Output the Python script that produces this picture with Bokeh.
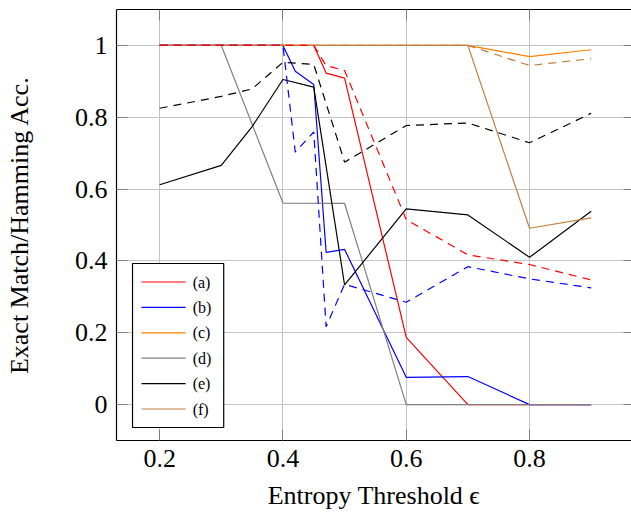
from bokeh.plotting import figure
from bokeh.models import (Range1d, LinearAxis, FixedTicker, CustomJSTickFormatter,
                          BoxAnnotation, Label)
from bokeh.embed import file_html
from bokeh.resources import INLINE

# ---- data -------------------------------------------------------------
X_FINE = [0.2, 0.3, 0.35, 0.4, 0.42, 0.45, 0.47, 0.5, 0.6, 0.7, 0.8, 0.9]
X_E = [0.2, 0.3, 0.35, 0.4, 0.45, 0.5, 0.6, 0.7, 0.8, 0.9]
X_COARSE = [0.2, 0.3, 0.4, 0.5, 0.6, 0.7, 0.8, 0.9]

A_EXACT = [1, 1, 1, 1, 1, 1, 0.923, 0.909, 0.187, 0, 0, 0]
A_HAMM = [1, 1, 1, 1, 1, 1, 0.944, 0.930, 0.515, 0.417, 0.39, 0.347]
B_EXACT = [1, 1, 1, 1, 0.928, 0.891, 0.424, 0.432, 0.076, 0.078, 0, 0]
B_HAMM = [1, 1, 1, 1, 0.703, 0.759, 0.217, 0.335, 0.285, 0.384, 0.35, 0.325]
C_EXACT = [1, 1, 1, 1, 1, 1, 0.969, 0.988]
D_EXACT = [1, 1, 0.561, 0.56, 0, 0, 0, 0]
E_EXACT = [0.612, 0.666, 0.774, 0.905, 0.884, 0.333, 0.545, 0.528, 0.41, 0.538]
E_HAMM = [0.825, 0.858, 0.879, 0.953, 0.947, 0.675, 0.777, 0.784, 0.729, 0.811]
F_EXACT = [1, 1, 1, 1, 1, 1, 0.491, 0.52]
F_HAMM = [1, 1, 1, 1, 1, 1, 0.944, 0.963]

LABELS = ["(a)", "(b)", "(c)", "(d)", "(e)", "(f)"]
X_TICKS = [0.2, 0.4, 0.6, 0.8]
Y_TICKS = [0, 0.2, 0.4, 0.6, 0.8, 1]

COLORS = ["#ff0000", "#0000ff", "#ff8000", "#808080", "#000000", "#bf8040"]
COL_A, COL_B, COL_C, COL_D, COL_E, COL_F = COLORS

FONT = "Liberation Serif"
DASH = "8 6"
LW = 1.2

X0, X1 = 0.13, 0.9654
Y0, Y1 = -0.1, 1.1
FRAME_L, FRAME_T, FRAME_B, FRAME_R = 116, 9, 440, 631

p = figure(width=631, height=512, output_backend="svg", toolbar_location=None,
           x_range=Range1d(X0, X1), y_range=Range1d(Y0, Y1),
           min_border_left=FRAME_L, min_border_right=0, min_border_top=FRAME_T,
           min_border_bottom=512 - FRAME_B)
p.outline_line_color = None
p.background_fill_color = "white"
p.border_fill_color = "white"

fmt = CustomJSTickFormatter(code="return String(Math.round(tick*10)/10);")

for ax in (p.xaxis[0], p.yaxis[0]):
    ax.major_tick_in = 11
    ax.major_tick_out = 0
    ax.minor_tick_line_color = None
    ax.major_tick_line_color = "#808080"
    ax.axis_line_color = "black"
    ax.axis_line_width = 1.2
    ax.major_label_text_font = FONT
    ax.major_label_text_font_size = "26px"
    ax.major_label_text_color = "black"
    ax.axis_label_text_font = FONT
    ax.axis_label_text_font_size = "26px"
    ax.axis_label_text_font_style = "normal"
    ax.axis_label_text_color = "black"
    ax.formatter = fmt

p.xaxis[0].ticker = FixedTicker(ticks=X_TICKS)
p.yaxis[0].ticker = FixedTicker(ticks=Y_TICKS)
p.xaxis[0].axis_label = "Entropy Threshold \u03f5"
p.yaxis[0].axis_label = "Exact Match/Hamming Acc."
p.xaxis[0].major_label_standoff = 9
p.yaxis[0].major_label_standoff = 9
p.xaxis[0].axis_label_standoff = 11
p.yaxis[0].axis_label_standoff = 38

top = LinearAxis(ticker=FixedTicker(ticks=X_TICKS), major_label_text_font_size="1px",
                 major_label_text_color=None,
                 major_label_standoff=0, major_tick_in=11, major_tick_out=0,
                 major_tick_line_color="#808080", minor_tick_line_color=None,
                 axis_line_color="black", axis_line_width=1.2)
right = LinearAxis(ticker=FixedTicker(ticks=Y_TICKS), major_label_text_font_size="1px",
                   major_label_text_color=None,
                   major_label_standoff=0, major_tick_in=8, major_tick_out=0,
                   major_tick_line_color="#808080", minor_tick_line_color=None,
                   axis_line_color=None)
p.add_layout(top, "above")
p.add_layout(right, "right")

p.xgrid.ticker = FixedTicker(ticks=X_TICKS)
p.ygrid.ticker = FixedTicker(ticks=Y_TICKS)
p.grid.grid_line_color = "#c4c4c4"
p.grid.grid_line_width = 1

# solid = exact match, dashed = hamming accuracy
p.line(X_FINE, A_EXACT, line_color=COL_A, line_width=LW)
p.line(X_FINE, B_EXACT, line_color=COL_B, line_width=LW)
p.line(X_COARSE, C_EXACT, line_color=COL_C, line_width=LW)
p.line(X_COARSE, D_EXACT, line_color=COL_D, line_width=LW)
p.line(X_E, E_EXACT, line_color=COL_E, line_width=LW)
p.line(X_COARSE, F_EXACT, line_color=COL_F, line_width=LW)

p.line(X_COARSE, F_HAMM, line_color=COL_F, line_width=LW, line_dash=DASH)
p.line(X_E, E_HAMM, line_color=COL_E, line_width=LW, line_dash=DASH)
p.line(X_FINE, B_HAMM, line_color=COL_B, line_width=LW, line_dash=DASH)
p.line(X_FINE, A_HAMM, line_color=COL_A, line_width=LW, line_dash=DASH)

# ---- legend (box + samples + labels), laid out in pixels from the frame ----
frame_w = (FRAME_R - 1) - FRAME_L
frame_h = FRAME_B - FRAME_T


def dx(px):  # pixel offset from frame left -> data x
    return X0 + px * (X1 - X0) / frame_w


def dy(py):  # pixel offset from frame bottom -> data y
    return Y0 + py * (Y1 - Y0) / frame_h


LEG_L, LEG_R, LEG_B, LEG_T = 16, 107, 13, 177   # legend box, px from frame
ROW0, ROW_STEP = 158.5, 25.4                      # first row centre, spacing
SAMPLE_L, SAMPLE_R, TEXT_L = 25, 69, 76

box = BoxAnnotation(left=dx(LEG_L), right=dx(LEG_R), bottom=dy(LEG_B), top=dy(LEG_T),
                    fill_color="white", fill_alpha=1.0, line_color="black",
                    line_width=1.2, line_alpha=1.0)
p.add_layout(box)

rows = [dy(ROW0 - ROW_STEP * i) for i in range(len(LABELS))]
seg = p.segment(x0=[dx(SAMPLE_L)] * len(rows), x1=[dx(SAMPLE_R)] * len(rows),
                y0=rows, y1=rows, line_color=COLORS, line_width=LW)
seg.level = "overlay"

for lab, yv in zip(LABELS, rows):
    p.add_layout(Label(x=dx(TEXT_L), y=yv, text=lab, text_font=FONT,
                       text_font_size="16px", text_color="black",
                       text_baseline="middle", text_align="left"))

open("out.html", "w").write(file_html(p, INLINE))
